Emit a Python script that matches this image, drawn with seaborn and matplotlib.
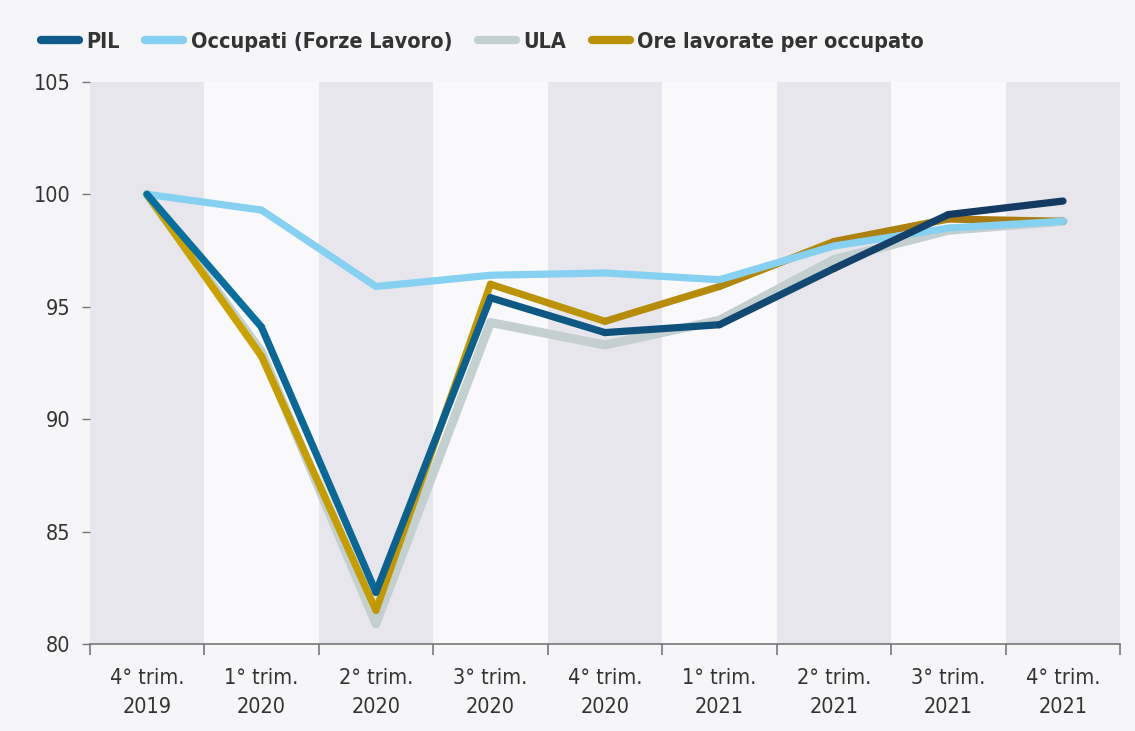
import numpy as np
import pandas as pd
import matplotlib
matplotlib.use("Agg")
import matplotlib.pyplot as plt
import seaborn as sns
from matplotlib.lines import Line2D
from matplotlib.colors import LinearSegmentedColormap

# dati (indice 4° trim. 2019 = 100)
trimestri = ["4° trim.\n2019", "1° trim.\n2020", "2° trim.\n2020", "3° trim.\n2020",
             "4° trim.\n2020", "1° trim.\n2021", "2° trim.\n2021", "3° trim.\n2021",
             "4° trim.\n2021"]
pil = [100, 94.1, 82.3, 95.4, 93.85, 94.2, 96.7, 99.1, 99.7]
occupati = [100, 99.3, 95.9, 96.4, 96.5, 96.2, 97.7, 98.5, 98.8]
ula = [100, 93.0, 80.9, 94.3, 93.3, 94.4, 97.1, 98.4, 98.8]
ore = [100, 92.8, 81.5, 96.0, 94.35, 95.9, 97.9, 98.9, 98.8]

serie = ["PIL", "Occupati (Forze Lavoro)", "ULA", "Ore lavorate per occupato"]
colori = {"PIL": "#0f5a88", "Occupati (Forze Lavoro)": "#86d0f2",
          "ULA": "#c3d0cf", "Ore lavorate per occupato": "#bb9106"}
# sfumature (inizio -> fine) per PIL e Ore
sfumature = {"PIL": ("#0a6f9d", "#143a62"),
             "Ore lavorate per occupato": ("#c9a200", "#a87c12")}
spessori = {"PIL": 5.2, "Occupati (Forze Lavoro)": 5.2, "ULA": 6.5,
            "Ore lavorate per occupato": 5.2}
ordine_disegno = ["ULA", "Ore lavorate per occupato", "Occupati (Forze Lavoro)", "PIL"]

df = pd.DataFrame({"PIL": pil, "Occupati (Forze Lavoro)": occupati,
                   "ULA": ula, "Ore lavorate per occupato": ore})
df["pos"] = np.arange(len(trimestri))
long_df = df.melt(id_vars="pos", var_name="serie", value_name="valore")

sns.set_theme(style="white")
plt.rcParams["font.family"] = ["DejaVu Sans"]
plt.rcParams["font.stretch"] = "condensed"

fig = plt.figure(figsize=(11.35, 7.31), dpi=100)
fig.patch.set_facecolor("#f6f6f8")
ax = fig.add_axes([0.079, 0.119, 0.908, 0.769])
ax.set_facecolor("#f9f9fb")

# bande verticali alternate
for i in range(len(trimestri)):
    if i % 2 == 0:
        ax.axvspan(i - 0.5, i + 0.5, color="#e7e6ec", zorder=0, lw=0)

n = len(trimestri)
for s in ordine_disegno:
    d = long_df[long_df["serie"] == s]
    if s in sfumature:
        cmap = LinearSegmentedColormap.from_list(s, sfumature[s])
        for i in range(n - 1):
            sns.lineplot(data=d[(d["pos"] >= i) & (d["pos"] <= i + 1)], x="pos", y="valore",
                         color=cmap(i / (n - 2)), lw=spessori[s], ax=ax, legend=False,
                         solid_capstyle="round", solid_joinstyle="round", zorder=3)
    else:
        sns.lineplot(data=d, x="pos", y="valore",
                     color=colori[s], lw=spessori[s], ax=ax, legend=False,
                     solid_capstyle="round", solid_joinstyle="round", zorder=3)

ax.set_xlim(-0.5, n - 0.5)
ax.set_ylim(80, 105)
ax.set_yticks([80, 85, 90, 95, 100, 105])
ax.set_xticks(np.arange(n))
ax.set_xticklabels(trimestri, fontsize=15.5, color="#333333", linespacing=1.6)
ax.tick_params(axis="y", labelsize=15.5, labelcolor="#333333", length=6, width=1,
               color="#777777", left=True, pad=8)
ax.tick_params(axis="x", length=0, pad=17)
ax.set_xticks(np.arange(n + 1) - 0.5, minor=True)
ax.tick_params(axis="x", which="minor", length=8, width=1.2, color="#777777",
               bottom=True, direction="out")
ax.set_xlabel("")
ax.set_ylabel("")
for sp in ["left", "top", "right"]:
    ax.spines[sp].set_visible(False)
ax.spines["bottom"].set_color("#777777")
ax.spines["bottom"].set_linewidth(1.2)
ax.spines["bottom"].set_zorder(5)

handles = [Line2D([0], [0], color=colori[s], lw=6, solid_capstyle="round") for s in serie]
fig.legend(handles, serie, loc="upper left", bbox_to_anchor=(0.019, 0.983), ncol=4,
           frameon=False, handlelength=1.75, handletextpad=0.35, columnspacing=1.2,
           prop={"size": 15.5, "weight": "bold", "stretch": "condensed"},
           labelcolor="#333333")

fig.savefig("out.png", dpi=100, facecolor=fig.get_facecolor())
